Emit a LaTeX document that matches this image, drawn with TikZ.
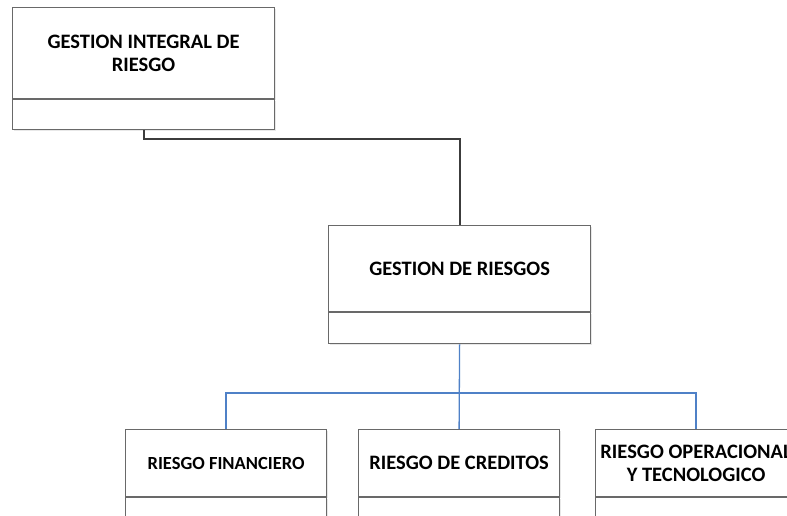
\documentclass[tikz,border=0pt]{standalone}
\usepackage{fontspec}
\setmainfont{Carlito}
\usetikzlibrary{shadows}
\definecolor{boxline}{RGB}{105,105,105}
\definecolor{linkblue}{RGB}{79,129,199}
\definecolor{linkdark}{RGB}{60,60,60}

\begin{document}
\begin{tikzpicture}[x=1pt, y=-1pt,
    box/.style={draw=boxline, line width=1.2pt, fill=white, inner sep=0pt, align=center,
      font=\fontsize{20.5}{23}\selectfont\bfseries,
      drop shadow={shadow xshift=1.5pt, shadow yshift=-1.5pt, fill=gray!35}},
    darklink/.style={draw=linkdark, line width=2pt},
    bluelink/.style={draw=linkblue, line width=1.3pt}]
      \clip (0, 0) rectangle (787, 515);
      \fill[white] (0, 0) rectangle (787, 515);

      % top level
      \node[box, anchor=north west, minimum width=262pt, minimum height=91pt] (gir) at (12, 7) {GESTION INTEGRAL DE\\RIESGO};
      \node[box, anchor=north, minimum width=262pt, minimum height=30pt] (girf) at (gir.south) {};

      % second level
      \node[box, anchor=north west, minimum width=262pt, minimum height=86pt] (gdr) at (328, 225) {GESTION DE RIESGOS};
      \node[box, anchor=north, minimum width=262pt, minimum height=31pt] (gdrf) at (gdr.south) {};

      % third level
      \node[box, anchor=north west, minimum width=201pt, minimum height=67pt, font=\fontsize{18.5}{22}\selectfont\bfseries] (rf) at (125, 429) {RIESGO FINANCIERO};
      \node[box, anchor=north, minimum width=201pt, minimum height=35pt] (rff) at (rf.south) {};
      \node[box, anchor=north west, minimum width=201pt, minimum height=67pt] (rc) at (358, 429) {RIESGO DE CREDITOS};
      \node[box, anchor=north, minimum width=201pt, minimum height=35pt] (rcf) at (rc.south) {};
      \node[box, anchor=north west, minimum width=201pt, minimum height=67pt] (ro) at (595, 429) {RIESGO OPERACIONAL\\Y TECNOLOGICO};
      \node[box, anchor=north, minimum width=201pt, minimum height=35pt] (rof) at (ro.south) {};

      % connectors
      \draw[darklink] (girf.south) -- ++(0, 9) -| (gdr.north);
      \draw[bluelink] (gdrf.south) -- (rc.north);
      \draw[bluelink] (rf.north) -- ++(0, -36) -| (ro.north);
\end{tikzpicture}
\end{document}
